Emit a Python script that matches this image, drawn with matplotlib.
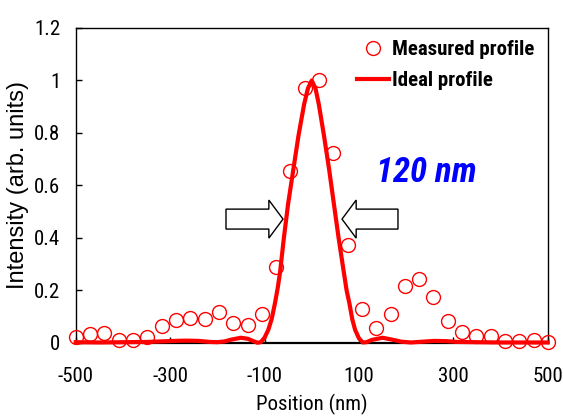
import numpy as np
import matplotlib
matplotlib.use("Agg")
import matplotlib.pyplot as plt
from matplotlib.patches import FancyArrow

# measured profile (circles)
meas_x = [-500, -470, -440, -409, -379, -348, -318, -288, -258, -227, -197,
          -167, -136, -106, -76, -45, -15, 15, 45, 76, 106, 136, 167, 197,
          227, 258, 288, 318, 348, 379, 409, 440, 470, 500]
meas_y = [0.023, 0.035, 0.038, 0.010, 0.013, 0.023, 0.063, 0.088, 0.095, 0.092,
          0.118, 0.077, 0.070, 0.110, 0.290, 0.655, 0.970, 1.000, 0.724, 0.373,
          0.130, 0.057, 0.110, 0.216, 0.244, 0.177, 0.083, 0.042, 0.027, 0.027,
          0.006, 0.006, 0.010, 0.004]

# ideal profile (line)
ideal_x = [-500, -450, -400, -350, -320, -290, -265, -240, -215, -200, -185,
           -170, -150, -135, -125, -115, -108, -100, -92, -85, -78, -72, -67,
           -59, -50, -39, -28, -16, -8, 0, 8, 15, 26, 37, 47, 57, 68, 74, 80,
           86, 92, 100, 108, 116, 128, 150, 170, 190, 210, 235, 260, 285, 310,
           350, 400, 450, 500]
ideal_y = [0.003, 0.002, 0.003, 0.004, 0.006, 0.008, 0.009, 0.008, 0.004, 0.003,
           0.006, 0.013, 0.020, 0.016, 0.008, 0.001, 0.003, 0.020, 0.050, 0.090,
           0.150, 0.210, 0.270, 0.400, 0.530, 0.660, 0.790, 0.910, 0.970, 1.000,
           0.970, 0.910, 0.790, 0.660, 0.530, 0.400, 0.270, 0.200, 0.150, 0.090,
           0.050, 0.018, 0.002, 0.003, 0.012, 0.020, 0.013, 0.005, 0.002, 0.005,
           0.008, 0.007, 0.004, 0.003, 0.002, 0.002, 0.002]

xticks = [-500, -300, -100, 100, 300, 500]
yticks = [0, 0.2, 0.4, 0.6, 0.8, 1.0, 1.2]
ytick_labels = ["0", "0.2", "0.4", "0.6", "0.8", "1", "1.2"]

narrow = ["Roboto Condensed", "Liberation Sans", "DejaVu Sans"]
regular = ["Liberation Sans", "DejaVu Sans"]

fig = plt.figure(figsize=(5.63, 4.19), dpi=100)
ax = fig.add_axes([0.1345, 0.1814, 0.8383, 0.7518])

ax.plot(meas_x, meas_y, "o", ms=10, mfc="none", mec="#ff0000", mew=1.0,
        clip_on=False, zorder=3, label="Measured profile")
ax.plot(ideal_x, ideal_y, "-", color="#ff0000", lw=3, clip_on=False,
        zorder=4, solid_joinstyle="round", label="Ideal profile")

ax.set_xlim(-500, 500)
ax.set_ylim(0, 1.2)
ax.set_xticks(xticks)
ax.set_xticklabels([str(v) for v in xticks], family=narrow, fontsize=15)
ax.set_yticks(yticks)
ax.set_yticklabels(ytick_labels, family=narrow, fontsize=15)
ax.tick_params(direction="in", length=4, width=1)
ax.tick_params(axis="x", pad=17)
ax.tick_params(axis="y", pad=11)
for s in ax.spines.values():
    s.set_linewidth(1)
ax.spines["bottom"].set_linewidth(1.6)

ax.set_xlabel("Position (nm)", family=narrow, fontsize=15, labelpad=6)
ax.set_ylabel("Intensity (arb. units)", family=regular, fontsize=17, labelpad=4)

# arrows marking the width
for x0, dx in [(-181.6, 120.8), (182.8, -118.6)]:
    ax.add_patch(FancyArrow(x0, 0.472, dx, 0, width=0.076, head_width=0.145,
                            head_length=30, length_includes_head=True,
                            fc="white", ec="black", lw=1, zorder=2))

ax.text(242, 0.65, "120 nm", color="#0000ff", family=narrow, fontsize=25,
        fontweight="bold", fontstyle="italic", ha="center", va="center")

ax.legend(loc="upper left", bbox_to_anchor=(0.596, 0.962), frameon=False,
          prop={"family": narrow, "weight": "bold", "size": 15},
          handlelength=1.55, handletextpad=0.15, borderpad=0, borderaxespad=0,
          labelspacing=0.6)

fig.savefig("out.png", dpi=100)
